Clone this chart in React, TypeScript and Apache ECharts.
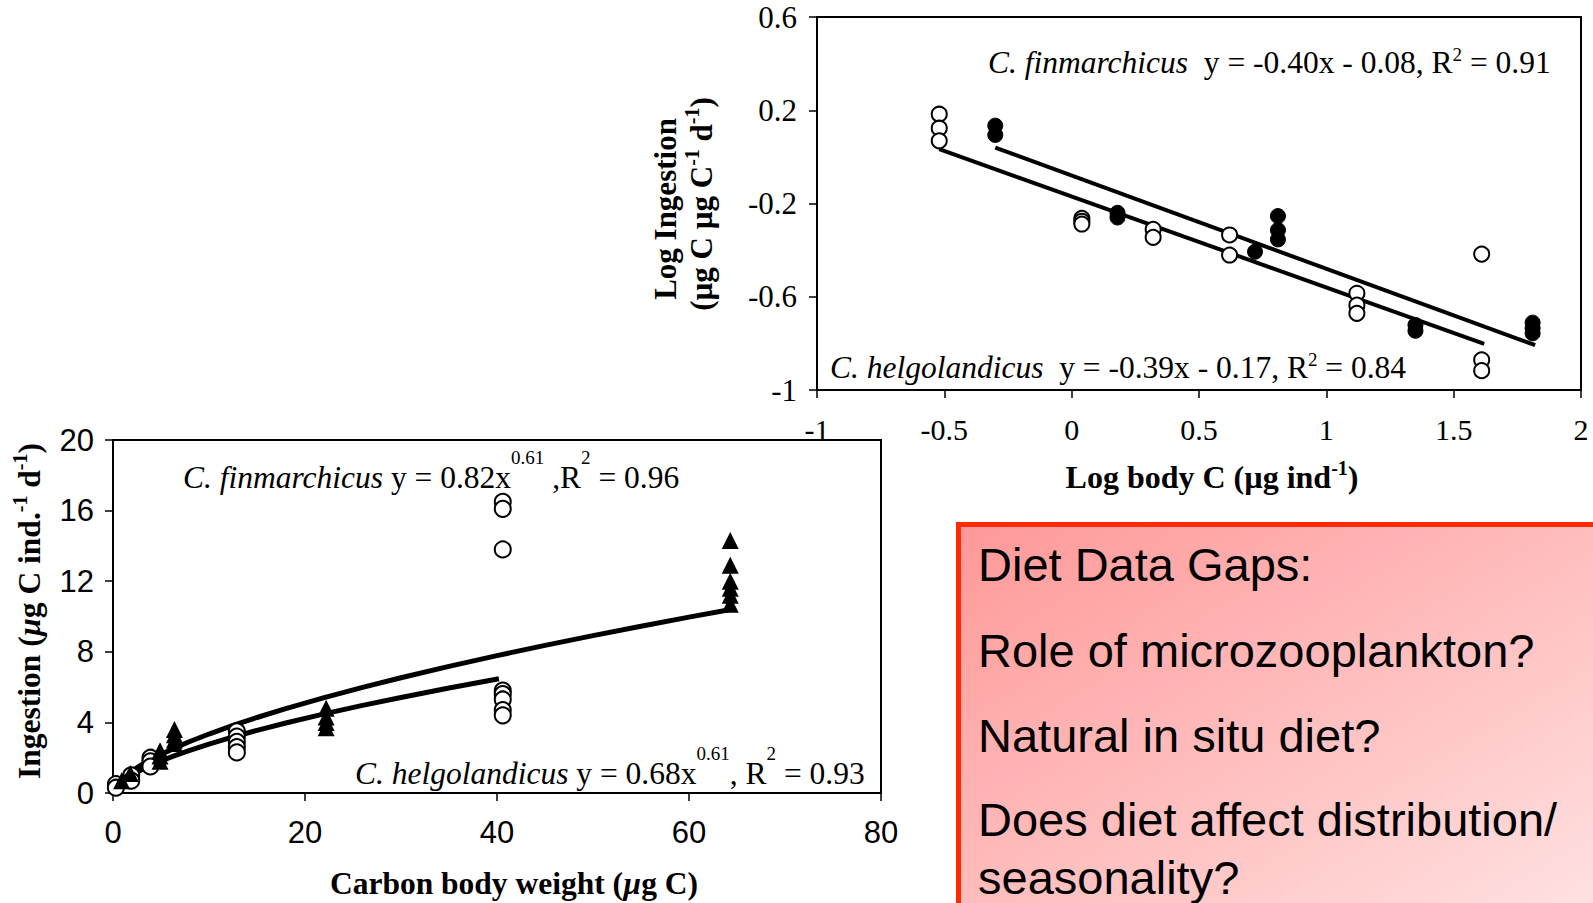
import { useEffect, useRef } from "react";
import * as echarts from "echarts";

const SERIF = "'Liberation Serif', 'Times New Roman', serif";
const SANS = "'Liberation Sans', Arial, sans-serif";

// Upper panel: log body carbon vs log ingestion
const logFinX = [-0.3, -0.3, 0.18, 0.18, 0.72, 0.81, 0.81, 0.81, 1.35, 1.35, 1.81, 1.81, 1.81];
const logFinY = [0.134, 0.094, -0.24, -0.26, -0.407, -0.254, -0.314, -0.354, -0.721, -0.746, -0.711, -0.735, -0.757];
const logHelX = [-0.52, -0.52, -0.52, 0.04, 0.04, 0.04, 0.32, 0.32, 0.62, 0.62, 1.12, 1.12, 1.12, 1.61, 1.61, 1.61];
const logHelY = [0.183, 0.123, 0.069, -0.264, -0.276, -0.288, -0.311, -0.345, -0.335, -0.421, -0.585, -0.636, -0.671, -0.417, -0.871, -0.917];

// Lower panel: carbon body weight vs ingestion
const finWeight = [0.9, 1.8, 4.9, 4.9, 4.9, 6.4, 6.4, 6.4, 6.4, 22.2, 22.2, 22.2, 22.2, 64.3, 64.3, 64.3, 64.3, 64.3, 64.3];
const finIngestion = [0.7, 1.1, 2.4, 2.1, 1.8, 3.6, 3.3, 3.0, 2.8, 4.8, 4.3, 4.0, 3.7, 14.3, 12.9, 12.0, 11.6, 11.2, 10.7];
const helWeight = [0.3, 0.3, 1.9, 1.9, 3.9, 3.9, 3.9, 12.9, 12.9, 12.9, 12.9, 12.9, 40.6, 40.6, 40.6, 40.6, 40.6, 40.6, 40.6, 40.6];
const helIngestion = [0.5, 0.3, 1.0, 0.7, 2.0, 1.8, 1.5, 3.5, 3.2, 2.9, 2.6, 2.3, 16.5, 16.1, 13.8, 5.8, 5.6, 5.3, 4.7, 4.4];

// Fitted relations printed on the panels
const logFinFit = { slope: -0.4, intercept: -0.08, from: -0.3, to: 1.82 };
const logHelFit = { slope: -0.39, intercept: -0.17, from: -0.52, to: 1.62 };
const powFinFit = { a: 0.82, b: 0.61 };
const powHelFit = { a: 0.68, b: 0.61 };
const powFinX = [0.3, 0.7, 1.2, 2, 3, 4, 5, 6.5, 8, 10, 12.5, 15, 18, 22, 26, 30, 35, 40, 45, 50, 55, 60, 64.2];
const powHelX = [0.3, 0.7, 1.2, 2, 3, 4, 5, 6.5, 8, 10, 12.5, 15, 18, 22, 26, 30, 35, 40.2];

const gapLines = [
  "Diet Data Gaps:",
  "Role of microzooplankton?",
  "Natural in situ diet?",
  "Does diet affect distribution/",
  "seasonality?",
];
const gapLineY = [564, 650, 735, 819, 877];

const pairs = (xs: number[], ys: number[]) => xs.map((x, i) => [x, ys[i]]);
const linePts = (f: { slope: number; intercept: number; from: number; to: number }) => [
  [f.from, f.slope * f.from + f.intercept],
  [f.to, f.slope * f.to + f.intercept],
];
const powPts = (f: { a: number; b: number }, xs: number[]) => xs.map((x) => [x, f.a * Math.pow(x, f.b)]);

const richSerif = (size: number, lh: number) => ({
  i: { fontFamily: SERIF, fontStyle: "italic", fontSize: size, lineHeight: lh, fill: "#000" },
  n: { fontFamily: SERIF, fontSize: size, lineHeight: lh, fill: "#000" },
  s: { fontFamily: SERIF, fontSize: 19, verticalAlign: "top", fill: "#000" },
});

const titleRich = (size: number) => ({
  b: { fontFamily: SERIF, fontWeight: "bold", fontSize: size, lineHeight: 38, fill: "#000" },
  bi: { fontFamily: SERIF, fontWeight: "bold", fontStyle: "italic", fontSize: size, lineHeight: 38, fill: "#000" },
  s: { fontFamily: SERIF, fontWeight: "bold", fontSize: 20, verticalAlign: "top", fill: "#000" },
});

export default function App() {
  const ref = useRef<HTMLDivElement>(null);

  useEffect(() => {
    if (!ref.current) return;
    const chart = echarts.init(ref.current, null, { renderer: "svg" });

    const axisLine = { show: true, onZero: false, lineStyle: { color: "#000", width: 2 } };
    const axisTick = { show: true, inside: false, length: 8, lineStyle: { color: "#000", width: 1.5 } };

    const option: any = {
      animation: false,
      backgroundColor: "#fff",
      grid: [
        { left: 817, top: 17, width: 764, height: 373, show: true, borderColor: "#000", borderWidth: 2, backgroundColor: "transparent" },
        { left: 113, top: 440, width: 768, height: 353, show: true, borderColor: "#000", borderWidth: 2, backgroundColor: "#fff" },
      ],
      xAxis: [
        {
          gridIndex: 0, type: "value", min: -1, max: 2, interval: 0.5,
          axisLine, axisTick, splitLine: { show: false },
          axisLabel: { fontFamily: SERIF, fontSize: 30, color: "#000", margin: 24 },
        },
        {
          gridIndex: 1, type: "value", min: 0, max: 80, interval: 20,
          axisLine, axisTick, splitLine: { show: false },
          axisLabel: { fontFamily: SANS, fontSize: 31, color: "#000", margin: 24 },
        },
      ],
      yAxis: [
        {
          gridIndex: 0, type: "value", min: -1, max: 0.6, interval: 0.4,
          axisLine, axisTick, splitLine: { show: false },
          axisLabel: { fontFamily: SERIF, fontSize: 31, color: "#000", margin: 20 },
        },
        {
          gridIndex: 1, type: "value", min: 0, max: 20, interval: 4,
          axisLine, axisTick, splitLine: { show: false },
          axisLabel: { fontFamily: SANS, fontSize: 31, color: "#000", margin: 19 },
        },
      ],
      series: [
        {
          name: "C. finmarchicus fit (log)", type: "line", xAxisIndex: 0, yAxisIndex: 0,
          data: linePts(logFinFit), showSymbol: false, symbol: "none", z: 2,
          lineStyle: { color: "#000", width: 4 },
        },
        {
          name: "C. helgolandicus fit (log)", type: "line", xAxisIndex: 0, yAxisIndex: 0,
          data: linePts(logHelFit), showSymbol: false, symbol: "none", z: 2,
          lineStyle: { color: "#000", width: 4 },
        },
        {
          name: "C. helgolandicus (log)", type: "scatter", xAxisIndex: 0, yAxisIndex: 0,
          data: pairs(logHelX, logHelY), symbol: "circle", symbolSize: 15, z: 3,
          itemStyle: { color: "#fff", borderColor: "#000", borderWidth: 2, opacity: 1 },
        },
        {
          name: "C. finmarchicus (log)", type: "scatter", xAxisIndex: 0, yAxisIndex: 0,
          data: pairs(logFinX, logFinY), symbol: "circle", symbolSize: 15, z: 3,
          itemStyle: { color: "#000", borderColor: "#000", borderWidth: 1, opacity: 1 },
        },
        {
          name: "C. finmarchicus fit", type: "line", xAxisIndex: 1, yAxisIndex: 1,
          data: powPts(powFinFit, powFinX), showSymbol: false, symbol: "none", smooth: false, z: 2,
          lineStyle: { color: "#000", width: 5 },
        },
        {
          name: "C. helgolandicus fit", type: "line", xAxisIndex: 1, yAxisIndex: 1,
          data: powPts(powHelFit, powHelX), showSymbol: false, symbol: "none", smooth: false, z: 2,
          lineStyle: { color: "#000", width: 5 },
        },
        {
          name: "C. helgolandicus", type: "scatter", xAxisIndex: 1, yAxisIndex: 1,
          data: pairs(helWeight, helIngestion), symbol: "circle", symbolSize: 16, z: 3,
          itemStyle: { color: "#fff", borderColor: "#000", borderWidth: 2, opacity: 1 },
        },
        {
          name: "C. finmarchicus", type: "scatter", xAxisIndex: 1, yAxisIndex: 1,
          data: pairs(finWeight, finIngestion), symbol: "triangle", symbolSize: 17, z: 3,
          itemStyle: { color: "#000", opacity: 1 },
        },
      ],
      graphic: [
        // equations, upper panel
        {
          type: "text", x: 988, y: 62, z: 10,
          style: {
            text: "{i|C. finmarchicus}{n|  y = -0.40x - 0.08, R}{s|2}{n| = 0.91}",
            rich: richSerif(31.5, 34), align: "left", verticalAlign: "middle",
          },
        },
        {
          type: "text", x: 830, y: 367, z: 10,
          style: {
            text: "{i|C. helgolandicus}{n|  y = -0.39x - 0.17, R}{s|2}{n| = 0.84}",
            rich: richSerif(31.5, 34), align: "left", verticalAlign: "middle",
          },
        },
        // equations, lower panel
        {
          type: "text", x: 183, y: 477, z: 10,
          style: {
            text: "{i|C. finmarchicus}{n| y = 0.82x}{s|0.61}{n| ,R}{s|2}{n| = 0.96}",
            rich: richSerif(31.5, 58), align: "left", verticalAlign: "middle",
          },
        },
        {
          type: "text", x: 355, y: 773, z: 10,
          style: {
            text: "{i|C. helgolandicus}{n| y = 0.68x}{s|0.61}{n|, R}{s|2}{n| = 0.93}",
            rich: richSerif(31.5, 58), align: "left", verticalAlign: "middle",
          },
        },
        // axis titles, upper panel
        {
          type: "text", x: 1212, y: 477, z: 10,
          style: {
            text: "{b|Log body C (µg ind}{s|-1}{b|)}",
            rich: titleRich(32), align: "center", verticalAlign: "middle",
          },
        },
        {
          type: "text", x: 665, y: 209, rotation: Math.PI / 2, z: 10,
          style: { text: "{b|Log Ingestion}", rich: titleRich(31), align: "center", verticalAlign: "middle" },
        },
        {
          type: "text", x: 701, y: 204, rotation: Math.PI / 2, z: 10,
          style: {
            text: "{b|(µg C µg C}{s|-1}{b| d}{s|-1}{b|)}",
            rich: titleRich(31), align: "center", verticalAlign: "middle",
          },
        },
        // axis titles, lower panel
        {
          type: "text", x: 514, y: 883, z: 10,
          style: {
            text: "{b|Carbon body weight (}{bi|µ}{b|g C)}",
            rich: titleRich(31.5), align: "center", verticalAlign: "middle",
          },
        },
        {
          type: "text", x: 29, y: 611, rotation: Math.PI / 2, z: 10,
          style: {
            text: "{b|Ingestion (}{bi|µ}{b|g C ind.}{s|-1}{b| d}{s|-1}{b|)}",
            rich: titleRich(31.5), align: "center", verticalAlign: "middle",
          },
        },
        // "Diet Data Gaps" panel
        {
          type: "rect", z: 20,
          shape: { x: 958.5, y: 524.5, width: 660, height: 400 },
          style: {
            fill: new echarts.graphic.LinearGradient(0, 0, 1, 1, [
              { offset: 0, color: "#ff9898" },
              { offset: 1, color: "#ffe4e4" },
            ]),
            stroke: "#ff2a00",
            lineWidth: 5,
          },
        },
        ...gapLines.map((t, i) => ({
          type: "text", x: 978, y: gapLineY[i], z: 21,
          style: {
            text: t, fill: "#000", fontFamily: SANS, fontSize: 47,
            align: "left", verticalAlign: "middle",
          },
        })),
      ],
    };

    chart.setOption(option);
    return () => chart.dispose();
  }, []);

  return (
    <div
      ref={ref}
      style={{ position: "fixed", left: 0, top: 0, width: 1593, height: 903, background: "#fff" }}
    />
  );
}
